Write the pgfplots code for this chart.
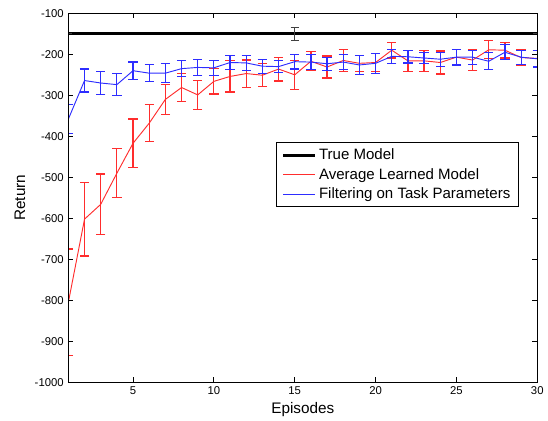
\documentclass[border=0pt]{standalone}
\usepackage{pgfplots}
\pgfplotsset{compat=1.18}
\usepackage{fontspec}
\setmainfont{Liberation Sans}
\definecolor{mred}{RGB}{255,45,45}
\definecolor{mblue}{RGB}{45,45,255}

\begin{document}
\begin{tikzpicture}
\begin{axis}[
  scale only axis, width=352.6pt, height=277.5pt,
  xmin=1, xmax=30, ymin=-1000, ymax=-100,
  xtick={5,10,...,30}, ytick={-1000,-900,...,-100},
  tick align=inside, major tick length=3.8pt,
  tick style={black, line width=0.6pt},
  axis line style={line width=0.8pt},
  tick label style={font=\fontsize{8.5}{10}\selectfont},
  /pgf/number format/assume math mode=true,
  /pgf/number format/1000 sep={},
  xlabel={Episodes}, ylabel={Return},
  label style={font=\fontsize{11.5}{13}\selectfont},
  xlabel style={at={(axis description cs:0.5,-0.0732)}, anchor=center},
  ylabel style={at={(axis description cs:-0.1032,0.5)}, anchor=center},
  axis on top, clip mode=global,
  legend style={at={(0.443,0.650)}, anchor=north west,
    font=\fontsize{11.3}{13}\selectfont, draw=black, line width=0.6pt,
    inner xsep=4pt, inner ysep=2.5pt, row sep=1pt},
  legend cell align=left,
  legend image code/.code={\draw[#1] (0pt,0pt) -- (24pt,0pt);},
]
\addplot[color=black, line width=2pt,
  error bars/.cd, y dir=both, y explicit,
  error bar style={color=black!75, line width=0.8pt},
  error mark options={rotate=90, color=black!75, mark size=3pt, line width=0.8pt}]
  coordinates {(1,-150) +- (0,0) (15,-150) +- (0,16) (30,-150) +- (0,0)};
\addlegendentry{True Model}

\addplot[color=mred, line width=0.7pt,
  error bars/.cd, y dir=both, y explicit,
  error bar style={color=mred, line width=0.9pt},
  error mark options={rotate=90, color=mred, mark size=3.5pt, line width=0.9pt}]
  coordinates {
  (1,-805) +- (0,130)
  (2,-602) +- (0,90)
  (3,-566) +- (0,74)
  (4,-490) +- (0,60)
  (5,-417) +- (0,59)
  (6,-368) +- (0,45)
  (7,-310) +- (0,37)
  (8,-281) +- (0,35)
  (9,-299) +- (0,36)
  (10,-266) +- (0,31)
  (11,-254) +- (0,38)
  (12,-247) +- (0,33)
  (13,-251) +- (0,28)
  (14,-236) +- (0,29)
  (15,-250) +- (0,35)
  (16,-217) +- (0,23)
  (17,-231) +- (0,27)
  (18,-215) +- (0,26)
  (19,-222) +- (0,20)
  (20,-220) +- (0,22)
  (21,-190) +- (0,19)
  (22,-216) +- (0,26)
  (23,-216) +- (0,25)
  (24,-220) +- (0,28)
  (25,-207) +- (0,19)
  (26,-214) +- (0,26)
  (27,-189) +- (0,22)
  (28,-190) +- (0,19)
  (29,-208) +- (0,19)
  (30,-210) +- (0,20)
  };
\addlegendentry{Average Learned Model}

\addplot[color=mblue, line width=0.7pt,
  error bars/.cd, y dir=both, y explicit,
  error bar style={color=mblue, line width=0.9pt},
  error mark options={rotate=90, color=mblue, mark size=3.5pt, line width=0.9pt}]
  coordinates {
  (1,-358) +- (0,35)
  (2,-264) +- (0,28)
  (3,-270) +- (0,28)
  (4,-274) +- (0,27)
  (5,-240) +- (0,21)
  (6,-246) +- (0,21)
  (7,-246) +- (0,23)
  (8,-235) +- (0,19)
  (9,-232) +- (0,19)
  (10,-233) +- (0,18)
  (11,-220) +- (0,17)
  (12,-221) +- (0,19)
  (13,-229) +- (0,17)
  (14,-230) +- (0,15)
  (15,-218) +- (0,18)
  (16,-219) +- (0,18)
  (17,-223) +- (0,16)
  (18,-219) +- (0,18)
  (19,-226) +- (0,24)
  (20,-222) +- (0,24)
  (21,-205) +- (0,17)
  (22,-206) +- (0,15)
  (23,-209) +- (0,14)
  (24,-212) +- (0,17)
  (25,-207) +- (0,19)
  (26,-207) +- (0,17)
  (27,-217) +- (0,21)
  (28,-195) +- (0,18)
  (29,-207) +- (0,17)
  (30,-211) +- (0,20)
  };
\addlegendentry{Filtering on Task Parameters}
\end{axis}
\path ([xshift=-51.4pt,yshift=-29pt]current axis.south west) rectangle ([xshift=7pt,yshift=10pt]current axis.north east);
\end{tikzpicture}
\end{document}
